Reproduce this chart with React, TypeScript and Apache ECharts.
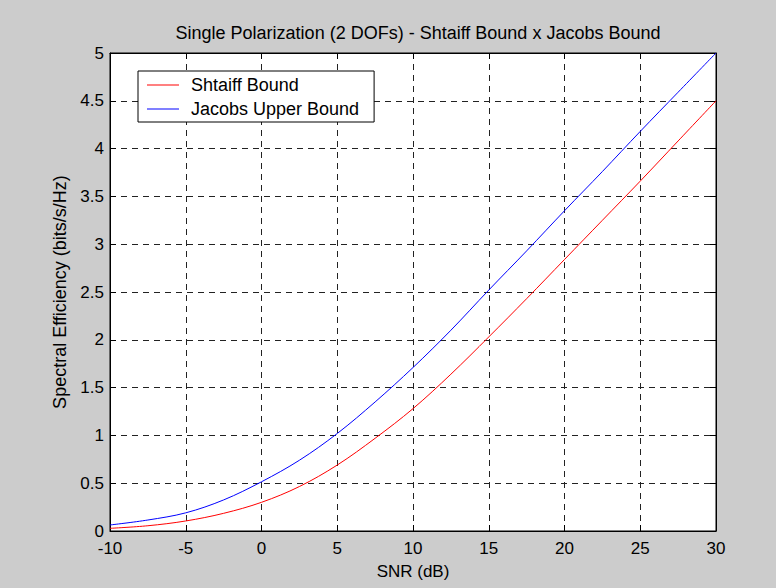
import React, { useEffect, useRef } from "react";
import * as echarts from "echarts";

// SNR grid (dB) and spectral efficiency of each bound (bits/s/Hz)
const snrDb = [-10, -7.5, -5, -2.5, 0, 2.5, 5, 7.5, 10, 12.5, 15, 17.5, 20, 22.5, 25, 27.5, 30];
const shtaiffBound = [0.028, 0.055, 0.105, 0.185, 0.3, 0.465, 0.69, 0.97, 1.28, 1.64, 2.03, 2.43, 2.84, 3.25, 3.66, 4.08, 4.5];
const jacobsUpperBound = [0.063, 0.115, 0.19, 0.325, 0.515, 0.74, 1.02, 1.35, 1.71, 2.1, 2.52, 2.93, 3.35, 3.76, 4.18, 4.59, 5.0];

const seriesNames = ["Shtaiff Bound", "Jacobs Upper Bound"];
const titleText = "Single Polarization (2 DOFs) - Shtaiff Bound x Jacobs Bound";
const xName = "SNR (dB)";
const yName = "Spectral Efficiency (bits/s/Hz)";

const FONT = "Liberation Sans, Arial, sans-serif";

export default function App() {
  const ref = useRef<HTMLDivElement>(null);

  useEffect(() => {
    if (!ref.current) return;
    const chart = echarts.init(ref.current, undefined, { renderer: "svg" });

    const gridLine = { show: true, lineStyle: { color: "#222", width: 1, type: [6, 5] as any } };
    const tickIn = { show: true, inside: true, length: 6, lineStyle: { color: "#000" } };
    const frameLine = { show: true, onZero: false, lineStyle: { color: "#000" } };

    chart.setOption({
      animation: false,
      backgroundColor: "#cccccc",
      textStyle: { fontFamily: FONT },
      title: {
        text: titleText,
        left: 413,
        top: 19,
        textAlign: "center",
        textStyle: { fontFamily: FONT, fontSize: 18, fontWeight: "normal", color: "#000" },
      },
      legend: {
        left: 138,
        top: 71,
        orient: "vertical",
        backgroundColor: "#fff",
        borderColor: "#000",
        borderWidth: 1,
        padding: [5, 15, 4, 9],
        icon: "rect",
        itemWidth: 32,
        itemHeight: 1,
        itemGap: 6,
        textStyle: { fontFamily: FONT, fontSize: 18, color: "#000", padding: [0, 0, 0, 7] },
        data: seriesNames,
      },
      grid: {
        left: 110,
        right: 60,
        top: 53,
        bottom: 57,
        show: true,
        backgroundColor: "#fff",
        borderColor: "#000",
        borderWidth: 1,
      },
      xAxis: [
        {
          type: "value",
          min: -10,
          max: 30,
          interval: 5,
          name: xName,
          nameLocation: "middle",
          nameGap: 32,
          nameTextStyle: { fontFamily: FONT, fontSize: 17, color: "#000" },
          axisLine: frameLine,
          axisTick: tickIn,
          axisLabel: { fontFamily: FONT, fontSize: 17, color: "#000", margin: 9 },
          splitLine: gridLine,
        },
        {
          type: "value",
          position: "top",
          min: -10,
          max: 30,
          interval: 5,
          axisLine: frameLine,
          axisTick: tickIn,
          axisLabel: { show: false },
          splitLine: { show: false },
        },
      ],
      yAxis: [
        {
          type: "value",
          min: 0,
          max: 5,
          interval: 0.5,
          name: yName,
          nameLocation: "middle",
          nameGap: 36,
          nameTextStyle: { fontFamily: FONT, fontSize: 18, color: "#000" },
          axisLine: frameLine,
          axisTick: tickIn,
          axisLabel: { fontFamily: FONT, fontSize: 17, color: "#000", margin: 6 },
          splitLine: gridLine,
        },
        {
          type: "value",
          position: "right",
          min: 0,
          max: 5,
          interval: 0.5,
          axisLine: frameLine,
          axisTick: tickIn,
          axisLabel: { show: false },
          splitLine: { show: false },
        },
      ],
      series: [
        {
          name: seriesNames[0],
          type: "line",
          data: snrDb.map((x, i) => [x, shtaiffBound[i]]),
          symbol: "none",
          smooth: 0.35,
          lineStyle: { color: "#ff0000", width: 1 },
          itemStyle: { color: "#ff0000" },
        },
        {
          name: seriesNames[1],
          type: "line",
          data: snrDb.map((x, i) => [x, jacobsUpperBound[i]]),
          symbol: "none",
          smooth: 0.35,
          lineStyle: { color: "#0000ff", width: 1 },
          itemStyle: { color: "#0000ff" },
        },
      ],
    });

    return () => chart.dispose();
  }, []);

  return <div ref={ref} style={{ width: 776, height: 588, position: "fixed", left: 0, top: 0 }} />;
}
